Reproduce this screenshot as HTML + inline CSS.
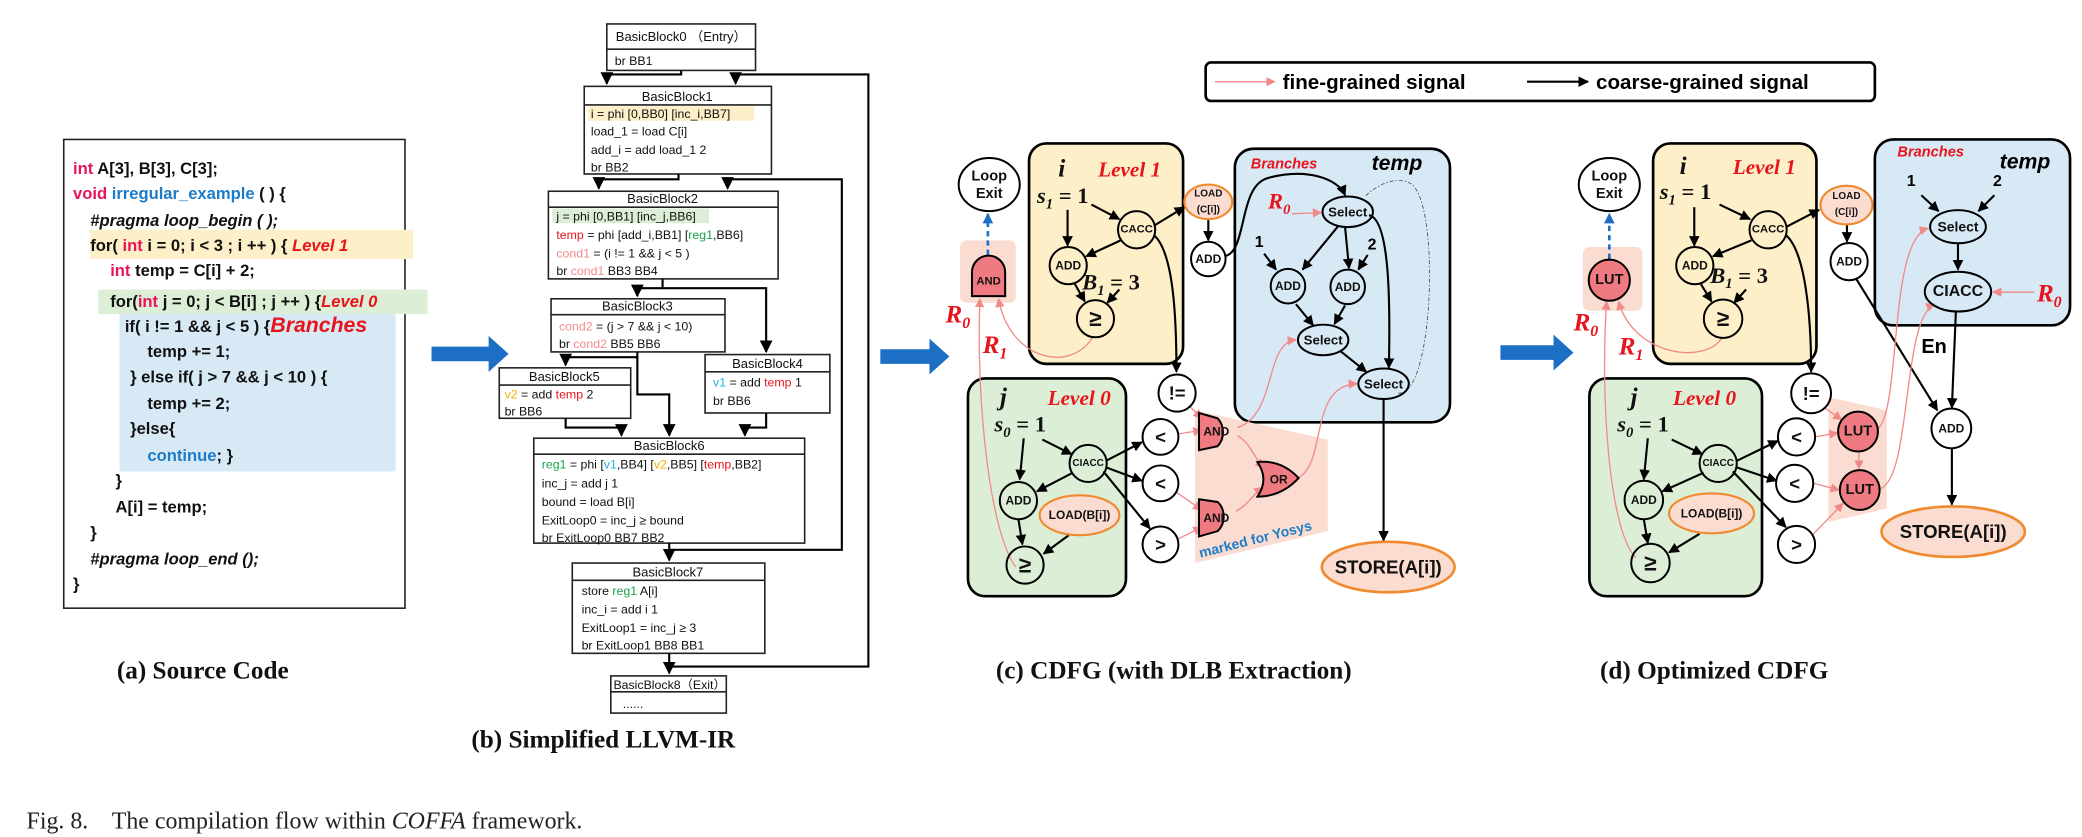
<!DOCTYPE html>
<html><head><meta charset="utf-8"><style>
html,body{margin:0;padding:0;background:#fff;}
svg{display:block;}
.s{font-family:"Liberation Sans",sans-serif;}
.b{font-weight:bold;}
.serif{font-family:"Liberation Serif",serif;}
.code{font-family:"Liberation Sans",sans-serif;font-size:12.5px;font-weight:bold;fill:#111;}
.ir{font-family:"Liberation Sans",sans-serif;font-size:9.3px;fill:#111;}
.irh{font-family:"Liberation Sans",sans-serif;font-size:9.8px;fill:#111;text-anchor:middle;}
.lbl{font-family:"Liberation Sans",sans-serif;font-weight:bold;text-anchor:middle;dominant-baseline:central;fill:#111;}
.red{fill:#e8141c;}
.math{font-family:"Liberation Serif",serif;font-weight:bold;font-style:italic;fill:#111;}
.rm{font-family:"Liberation Serif",serif;font-weight:bold;font-style:italic;fill:#e8141c;}
.blk{stroke:#000;stroke-width:1.6;fill:none;}
.pk{stroke:#f08a8a;stroke-width:1;fill:none;}
.node{stroke:#000;stroke-width:1.5;}
.cap{font-family:"Liberation Serif",serif;font-weight:bold;font-size:19px;fill:#111;}
</style></head><body>
<svg width="2082" height="837" viewBox="0 0 1568 630.3" xmlns="http://www.w3.org/2000/svg">
<defs>
<marker id="ab" viewBox="0 0 10 10" refX="9" refY="5" markerWidth="5" markerHeight="5" orient="auto"><path d="M0,0L10,5L0,10z" fill="#000"/></marker>
<marker id="ap" viewBox="0 0 10 10" refX="9" refY="5" markerWidth="7" markerHeight="7" orient="auto"><path d="M0,0L10,5L0,10z" fill="#f08a8a"/></marker>
<marker id="abl" viewBox="0 0 10 10" refX="9" refY="5" markerWidth="4" markerHeight="4" orient="auto"><path d="M0,0L10,5L0,10z" fill="#1c6fc4"/></marker>
<marker id="as" viewBox="0 0 10 10" refX="9" refY="5" markerWidth="6" markerHeight="6" orient="auto"><path d="M0,0L10,5L0,10z" fill="#000"/></marker>
</defs>
<rect width="1568" height="631" fill="#fff"/>

<!-- (a) Source code -->
<rect x="48" y="105" width="257" height="353" fill="#fff" stroke="#222" stroke-width="1.2"/>
<rect x="68" y="173" width="243" height="22" fill="#fdefc8"/>
<rect x="74" y="218" width="248" height="18.5" fill="#dcefd6"/>
<rect x="90" y="236.5" width="208" height="118.5" fill="#d8e9f6"/>
<text class="code" x="55" y="131"><tspan fill="#e8145a">int</tspan> A[3], B[3], C[3];</text>
<text class="code" x="55" y="150"><tspan fill="#e8145a">void</tspan> <tspan fill="#1c7cc8">irregular_example</tspan> ( ) {</text>
<text class="code" x="68" y="170" fill="#e83ce8" font-style="italic">#pragma loop_begin ( );</text>
<text class="code" x="68" y="189">for( <tspan fill="#e8145a">int</tspan> i = 0; i &lt; 3 ; i ++ ) { <tspan fill="#e8141c" font-style="italic">Level 1</tspan></text>
<text class="code" x="83" y="208"><tspan fill="#e8145a">int</tspan> temp = C[i] + 2;</text>
<text class="code" x="83" y="231">for(<tspan fill="#e8145a">int</tspan> j = 0; j &lt; B[i] ; j ++ ) {<tspan fill="#e8141c" font-style="italic">Level 0</tspan></text>
<text class="code" x="94" y="250">if( i != 1 &amp;&amp; j &lt; 5 ) {<tspan fill="#e8141c" font-style="italic" font-size="16">Branches</tspan></text>
<text class="code" x="111" y="269">temp += 1;</text>
<text class="code" x="98" y="288">} else if( j &gt; 7 &amp;&amp; j &lt; 10 ) {</text>
<text class="code" x="111" y="308">temp += 2;</text>
<text class="code" x="98" y="327">}else{</text>
<text class="code" x="111" y="347"><tspan fill="#1c7cc8">continue</tspan>; }</text>
<text class="code" x="87" y="366">}</text>
<text class="code" x="87" y="386">A[i] = temp;</text>
<text class="code" x="68" y="405">}</text>
<text class="code" x="68" y="425" fill="#e83ce8" font-style="italic">#pragma loop_end ();</text>
<text class="code" x="55" y="444">}</text>
<text class="cap" x="88" y="511">(a) Source Code</text>

<!-- blue arrows -->
<g fill="#1c6fc4">
<path d="M325,261H368V253L383,266.5L368,280V272H325Z"/>
<path d="M663,263H700V255L715,268.5L700,282V274H663Z"/>
<path d="M1130,260H1170V252L1185,265.5L1170,279V271H1130Z"/>
</g>

<!-- (b) LLVM IR -->
<g fill="#fff" stroke="#222" stroke-width="1.2">
<rect x="457" y="18" width="112" height="35"/><line x1="457" y1="37" x2="569" y2="37"/>
<rect x="440" y="65" width="141" height="66"/><line x1="440" y1="79" x2="581" y2="79"/>
<rect x="413" y="144" width="173" height="66"/><line x1="413" y1="156" x2="586" y2="156"/>
<rect x="415" y="225" width="131" height="40"/><line x1="415" y1="237" x2="546" y2="237"/>
<rect x="376" y="277" width="99" height="38"/><line x1="376" y1="290" x2="475" y2="290"/>
<rect x="531" y="267" width="94" height="44"/><line x1="531" y1="280" x2="625" y2="280"/>
<rect x="402" y="330" width="204" height="79"/><line x1="402" y1="342" x2="606" y2="342"/>
<rect x="431" y="424" width="145" height="68"/><line x1="431" y1="437" x2="576" y2="437"/>
<rect x="460" y="509" width="87" height="28"/><line x1="460" y1="521" x2="547" y2="521"/>
</g>
<rect x="443" y="80" width="125" height="11" fill="#fdefc8"/>
<rect x="416" y="157" width="118" height="11" fill="#dcefd6"/>
<g class="blk" stroke-width="1.3">
<path d="M513,53V56H457V63" marker-end="url(#as)"/>
<path d="M576,424" />
<path d="M504,502H654V56H554V63" marker-end="url(#as)"/>
<path d="M511,131V135H451V142" marker-end="url(#as)"/>
<path d="M504,414H634V135H548V142" marker-end="url(#as)"/>
<path d="M499,210V217H480V223" marker-end="url(#as)"/>
<path d="M499,217H577V265" marker-end="url(#as)"/>
<path d="M480,265V269H426V275" marker-end="url(#as)"/>
<path d="M480,269V297H504V328" marker-end="url(#as)"/>
<path d="M426,315V322H468V328" marker-end="url(#as)"/>
<path d="M577,311V322H561V328" marker-end="url(#as)"/>
<path d="M504,409V422" marker-end="url(#as)"/>
<path d="M504,492V507" marker-end="url(#as)"/>
</g>
<text class="irh" x="513" y="31">BasicBlock0 （Entry）</text>
<text class="ir" x="463" y="49">br BB1</text>
<text class="irh" x="510" y="76">BasicBlock1</text>
<text class="ir" x="445" y="89">i = phi [0,BB0] [inc_i,BB7]</text>
<text class="ir" x="445" y="102">load_1 = load C[i]</text>
<text class="ir" x="445" y="116">add_i = add load_1 2</text>
<text class="ir" x="445" y="129">br BB2</text>
<text class="irh" x="499" y="153">BasicBlock2</text>
<text class="ir" x="419" y="166">j = phi [0,BB1] [inc_j,BB6]</text>
<text class="ir" x="419" y="180"><tspan fill="#e8141c">temp</tspan> = phi [add_i,BB1] [<tspan fill="#1aa34a">reg1</tspan>,BB6]</text>
<text class="ir" x="419" y="194"><tspan fill="#f28a8a">cond1</tspan> = (i != 1 &amp;&amp; j &lt; 5 )</text>
<text class="ir" x="419" y="207">br <tspan fill="#f28a8a">cond1</tspan> BB3 BB4</text>
<text class="irh" x="480" y="234">BasicBlock3</text>
<text class="ir" x="421" y="249"><tspan fill="#f28a8a">cond2</tspan> = (j &gt; 7 &amp;&amp; j &lt; 10)</text>
<text class="ir" x="421" y="262">br <tspan fill="#f28a8a">cond2</tspan> BB5 BB6</text>
<text class="irh" x="425" y="287">BasicBlock5</text>
<text class="ir" x="380" y="300"><tspan fill="#f5b400">v2</tspan> = add <tspan fill="#e8141c">temp</tspan> 2</text>
<text class="ir" x="380" y="313">br BB6</text>
<text class="irh" x="578" y="277">BasicBlock4</text>
<text class="ir" x="537" y="291"><tspan fill="#1cb4e8">v1</tspan> = add <tspan fill="#e8141c">temp</tspan> 1</text>
<text class="ir" x="537" y="305">br BB6</text>
<text class="irh" x="504" y="339">BasicBlock6</text>
<text class="ir" x="408" y="353"><tspan fill="#1aa34a">reg1</tspan> = phi [<tspan fill="#1cb4e8">v1</tspan>,BB4] [<tspan fill="#f5b400">v2</tspan>,BB5] [<tspan fill="#e8141c">temp</tspan>,BB2]</text>
<text class="ir" x="408" y="367">inc_j = add j 1</text>
<text class="ir" x="408" y="381">bound = load B[i]</text>
<text class="ir" x="408" y="395">ExitLoop0 = inc_j ≥ bound</text>
<text class="ir" x="408" y="408">br ExitLoop0 BB7 BB2</text>
<text class="irh" x="503" y="434">BasicBlock7</text>
<text class="ir" x="438" y="448">store <tspan fill="#1aa34a">reg1</tspan> A[i]</text>
<text class="ir" x="438" y="462">inc_i = add i 1</text>
<text class="ir" x="438" y="476">ExitLoop1 = inc_j ≥ 3</text>
<text class="ir" x="438" y="489">br ExitLoop1 BB8 BB1</text>
<text class="ir" x="462" y="519" font-size="8.5">BasicBlock8（Exit）</text>
<text class="ir" x="469" y="533">......</text>
<text class="cap" x="355" y="563">(b) Simplified LLVM-IR</text>

<!-- Legend -->
<rect x="908" y="47" width="504" height="29" rx="4" fill="#fff" stroke="#000" stroke-width="2"/>
<line x1="915" y1="61.5" x2="960" y2="61.5" class="pk" stroke-width="1.3" marker-end="url(#ap)"/>
<text class="s b" x="966" y="67" font-size="15.5">fine-grained signal</text>
<line x1="1150" y1="61.5" x2="1196" y2="61.5" class="blk" marker-end="url(#ab)"/>
<text class="s b" x="1202" y="67" font-size="15.5">coarse-grained signal</text>

<!-- (c) CDFG -->
<rect x="775" y="108" width="116" height="166" rx="13" fill="#fdefc8" stroke="#000" stroke-width="2"/>
<rect x="930" y="112" width="162" height="206" rx="14" fill="#d8e9f6" stroke="#000" stroke-width="2"/>
<rect x="729" y="285" width="119" height="164" rx="13" fill="#dcefd6" stroke="#000" stroke-width="2"/>
<rect x="723" y="181" width="42" height="47" rx="5" fill="#fbdcd0"/>
<polygon points="900,309 1000,331 1000,400 900,424" fill="#fbdcd0"/>

<text class="math" x="797" y="133" font-size="19">i</text>
<text class="rm" x="827" y="133" font-size="16" font-family="Liberation Sans">Level 1</text>
<text class="math" x="781" y="153" font-size="17">s<tspan font-size="11" dy="4">1</tspan><tspan dy="-4" font-style="normal"> = 1</tspan></text>
<text class="math" x="815" y="218" font-size="17">B<tspan font-size="11" dy="4">1</tspan><tspan dy="-4" font-style="normal"> = 3</tspan></text>
<text class="s b" x="942" y="127" font-size="11" font-style="italic" fill="#e8141c">Branches</text>
<text class="s b" x="1033" y="128" font-size="16" font-style="italic">temp</text>
<text class="rm" x="955" y="157" font-size="17">R<tspan font-size="11" dy="4">0</tspan></text>
<text class="s b" x="945" y="186" font-size="12">1</text>
<text class="s b" x="1030" y="188" font-size="12">2</text>
<text class="math" x="753" y="305" font-size="19">j</text>
<text class="rm" x="789" y="305" font-size="16" font-family="Liberation Sans">Level 0</text>
<text class="math" x="749" y="325" font-size="17">s<tspan font-size="11" dy="4">0</tspan><tspan dy="-4" font-style="normal"> = 1</tspan></text>
<text class="rm" x="712" y="243" font-size="19">R<tspan font-size="12" dy="4">0</tspan></text>
<text class="rm" x="740" y="266" font-size="19">R<tspan font-size="12" dy="4">1</tspan></text>

<!-- edges c black -->
<g class="blk" stroke-width="1.4">
<path d="M804,158V185" marker-end="url(#ab)"/>
<path d="M822,154L843,165" marker-end="url(#ab)"/>
<path d="M844,181L818,193" marker-end="url(#ab)"/>
<path d="M809,213L817,227" marker-end="url(#ab)"/>
<path d="M843,218L834,228" marker-end="url(#ab)"/>
<path d="M869,170L892,156" marker-end="url(#ab)"/>
<path d="M869,177C884,190 886,240 886,280" marker-end="url(#ab)"/>
<path d="M910,165V181" marker-end="url(#ab)"/>
<path d="M922,193C940,190 932,140 955,134C985,126 1008,135 1013,147" marker-end="url(#ab)"/>
<path d="M952,191L961,203" marker-end="url(#ab)"/>
<path d="M1030,192L1023,203" marker-end="url(#ab)"/>
<path d="M1008,170L981,203" marker-end="url(#ab)"/>
<path d="M1013,171L1016,202" marker-end="url(#ab)"/>
<path d="M1031,162C1047,165 1047,230 1046,277" marker-end="url(#ab)"/>
<path d="M976,229L989,245" marker-end="url(#ab)"/>
<path d="M1013,230L1005,244" marker-end="url(#ab)"/>
<path d="M1009,264L1029,280" marker-end="url(#ab)"/>
<path d="M1042,300V407" marker-end="url(#ab)"/>
<path d="M771,330L768,361" marker-end="url(#ab)"/>
<path d="M785,331L807,342" marker-end="url(#ab)"/>
<path d="M808,356L781,370" marker-end="url(#ab)"/>
<path d="M767,391L770,410" marker-end="url(#ab)"/>
<path d="M805,403L786,417" marker-end="url(#ab)"/>
<path d="M833,347L860,333" marker-end="url(#ab)"/>
<path d="M833,352L860,362" marker-end="url(#ab)"/>
<path d="M831,355L866,398" marker-end="url(#ab)"/>
</g>
<path d="M1053,296C1080,300 1085,150 1062,138C1050,132 1036,140 1028,148" fill="none" stroke="#444" stroke-width="0.6" stroke-dasharray="3,1.5,1,1.5"/>
<!-- pink c -->
<g class="pk">
<path d="M823,254C805,282 760,270 752,225" marker-end="url(#ap)"/>
<path d="M765,427C745,400 735,300 738,225" marker-end="url(#ap)"/>
<path d="M896,306L905,315" marker-end="url(#ap)"/>
<path d="M886,327L905,324" marker-end="url(#ap)"/>
<path d="M885,370L905,384" marker-end="url(#ap)"/>
<path d="M885,407L905,397" marker-end="url(#ap)"/>
<path d="M932,328C943,335 944,345 952,352" marker-end="url(#ap)"/>
<path d="M931,385C940,380 944,372 951,367" marker-end="url(#ap)"/>
<path d="M932,322C962,312 952,258 976,256" marker-end="url(#ap)"/>
<path d="M977,360C1000,350 985,290 1022,289" marker-end="url(#ap)"/>
<path d="M973,161L995,160" marker-end="url(#ap)"/>
</g>
<path d="M744,192V161" stroke="#1c6fc4" stroke-width="2" stroke-dasharray="4,3" fill="none" marker-end="url(#abl)"/>

<!-- nodes c -->
<ellipse cx="745" cy="139" rx="23" ry="20" fill="#fff" class="node" stroke-width="2"/>
<text class="lbl" x="745" y="133" font-size="11">Loop</text><text class="lbl" x="745" y="146" font-size="11">Exit</text>
<path d="M732,223V205A12.5,12.5 0 0 1 757,205V223Z" fill="#f07a82" class="node"/>
<text class="lbl" x="744.5" y="212" font-size="8.5">AND</text>
<circle cx="856" cy="173" r="14" fill="none" class="node"/><text class="lbl" x="856" y="173" font-size="8.5">CACC</text>
<circle cx="804.5" cy="200" r="14" fill="none" class="node"/><text class="lbl" x="804.5" y="200" font-size="9">ADD</text>
<circle cx="825" cy="240" r="14" fill="none" class="node"/><text class="lbl" x="825" y="240" font-size="17" font-weight="normal">≥</text>
<ellipse cx="910" cy="152" rx="18" ry="13" fill="#fbdcd0" stroke="#f08a30" stroke-width="1.6"/>
<text class="lbl" x="910" y="146" font-size="7.5">LOAD</text><text class="lbl" x="910" y="158" font-size="7.5">(C[i])</text>
<circle cx="910" cy="195" r="13" fill="#fff" class="node"/><text class="lbl" x="910" y="195" font-size="9">ADD</text>
<ellipse cx="1015" cy="159.5" rx="19" ry="11.5" fill="none" class="node"/><text class="lbl" x="1015" y="159.5" font-size="10">Select</text>
<circle cx="970" cy="215.5" r="13" fill="none" class="node"/><text class="lbl" x="970" y="215.5" font-size="9">ADD</text>
<circle cx="1015" cy="216" r="13" fill="none" class="node"/><text class="lbl" x="1015" y="216" font-size="9">ADD</text>
<ellipse cx="996.5" cy="256" rx="19" ry="11.5" fill="none" class="node"/><text class="lbl" x="996.5" y="256" font-size="10">Select</text>
<ellipse cx="1042" cy="289" rx="19" ry="11.5" fill="none" class="node"/><text class="lbl" x="1042" y="289" font-size="10">Select</text>
<circle cx="886.5" cy="296" r="14" fill="#fff" class="node"/><text class="lbl" x="886.5" y="296" font-size="14">!=</text>
<circle cx="819.5" cy="349" r="14" fill="none" class="node"/><text class="lbl" x="819.5" y="349" font-size="7.5">CIACC</text>
<circle cx="767" cy="377" r="14" fill="none" class="node"/><text class="lbl" x="767" y="377" font-size="9">ADD</text>
<ellipse cx="813" cy="388" rx="30" ry="15" fill="#fbdcd0" stroke="#f08a30" stroke-width="1.6"/><text class="lbl" x="813" y="388" font-size="9">LOAD(B[i])</text>
<circle cx="772" cy="425.5" r="14" fill="none" class="node"/><text class="lbl" x="772" y="425.5" font-size="17" font-weight="normal">≥</text>
<circle cx="874" cy="329" r="13.5" fill="#fff" class="node"/><text class="lbl" x="874" y="329" font-size="14">&lt;</text>
<circle cx="874" cy="364" r="13.5" fill="#fff" class="node"/><text class="lbl" x="874" y="364" font-size="14">&lt;</text>
<circle cx="874" cy="410" r="13.5" fill="#fff" class="node"/><text class="lbl" x="874" y="410" font-size="14">&gt;</text>
<path d="M903,311L917,315A12,14 0 0 1 917,336L903,339Z" fill="#f07a82" class="node"/><text class="lbl" x="916" y="325" font-size="9">AND</text>
<path d="M903,376L917,378A12,14 0 0 1 917,400L903,404Z" fill="#f07a82" class="node"/><text class="lbl" x="916" y="390" font-size="9">AND</text>
<path d="M947,348Q965,346 978,360Q965,374 947,374Q956,361 947,348Z" fill="#f07a82" class="node"/><text class="lbl" x="963" y="361" font-size="9">OR</text>
<text class="s b" font-size="10.5" fill="#1c7cc8" transform="translate(904,420) rotate(-14)">marked for Yosys</text>
<ellipse cx="1045.5" cy="427" rx="50" ry="19" fill="#fbdcd0" stroke="#f08a30" stroke-width="2"/><text class="lbl" x="1045.5" y="427" font-size="14">STORE(A[i])</text>
<text class="cap" x="750" y="511">(c) CDFG (with DLB Extraction)</text>

<!-- (d) Optimized CDFG -->
<rect x="1245" y="108" width="123" height="166" rx="13" fill="#fdefc8" stroke="#000" stroke-width="2"/>
<rect x="1412" y="105" width="147" height="140" rx="14" fill="#d8e9f6" stroke="#000" stroke-width="2"/>
<rect x="1197" y="285" width="130" height="164" rx="13" fill="#dcefd6" stroke="#000" stroke-width="2"/>
<rect x="1192" y="186" width="45" height="48" rx="5" fill="#fbdcd0"/>
<polygon points="1377,299 1421,309 1421,383 1377,393" fill="#fbdcd0"/>

<text class="math" x="1265" y="131" font-size="19">i</text>
<text class="rm" x="1305" y="131" font-size="16" font-family="Liberation Sans">Level 1</text>
<text class="math" x="1250" y="150" font-size="17">s<tspan font-size="11" dy="4">1</tspan><tspan dy="-4" font-style="normal"> = 1</tspan></text>
<text class="math" x="1288" y="213" font-size="17">B<tspan font-size="11" dy="4">1</tspan><tspan dy="-4" font-style="normal"> = 3</tspan></text>
<text class="s b" x="1429" y="118" font-size="11" font-style="italic" fill="#e8141c">Branches</text>
<text class="s b" x="1506" y="127" font-size="16" font-style="italic">temp</text>
<text class="s b" x="1436" y="140" font-size="12">1</text>
<text class="s b" x="1501" y="140" font-size="12">2</text>
<text class="rm" x="1534" y="227" font-size="19">R<tspan font-size="12" dy="4">0</tspan></text>
<text class="s b" x="1447" y="266" font-size="15">En</text>
<text class="math" x="1228" y="305" font-size="19">j</text>
<text class="rm" x="1260" y="305" font-size="16" font-family="Liberation Sans">Level 0</text>
<text class="math" x="1218" y="325" font-size="17">s<tspan font-size="11" dy="4">0</tspan><tspan dy="-4" font-style="normal"> = 1</tspan></text>
<text class="rm" x="1185" y="249" font-size="19">R<tspan font-size="12" dy="4">0</tspan></text>
<text class="rm" x="1219" y="267" font-size="19">R<tspan font-size="12" dy="4">1</tspan></text>

<g class="blk" stroke-width="1.4">
<path d="M1276,156V185" marker-end="url(#ab)"/>
<path d="M1295,154L1318,165" marker-end="url(#ab)"/>
<path d="M1319,181L1290,193" marker-end="url(#ab)"/>
<path d="M1281,214L1289,227" marker-end="url(#ab)"/>
<path d="M1315,218L1306,228" marker-end="url(#ab)"/>
<path d="M1345,171L1370,158" marker-end="url(#ab)"/>
<path d="M1345,177C1360,190 1364,240 1364,280" marker-end="url(#ab)"/>
<path d="M1391,169V182" marker-end="url(#ab)"/>
<path d="M1398,210L1459,309" marker-end="url(#ab)"/>
<path d="M1447,147L1460,159" marker-end="url(#ab)"/>
<path d="M1502,147L1490,159" marker-end="url(#ab)"/>
<path d="M1474.6,183V203" marker-end="url(#ab)"/>
<path d="M1473,235L1470,307" marker-end="url(#ab)"/>
<path d="M1470,338V380" marker-end="url(#ab)"/>
<path d="M1241,330L1238,361" marker-end="url(#ab)"/>
<path d="M1259,331L1282,342" marker-end="url(#ab)"/>
<path d="M1283,356L1252,370" marker-end="url(#ab)"/>
<path d="M1238,391L1241,409" marker-end="url(#ab)"/>
<path d="M1280,402L1257,416" marker-end="url(#ab)"/>
<path d="M1308,347L1339,332" marker-end="url(#ab)"/>
<path d="M1308,352L1338,362" marker-end="url(#ab)"/>
<path d="M1305,355L1345,397" marker-end="url(#ab)"/>
</g>
<g class="pk">
<path d="M1297,254C1285,275 1230,268 1219,227" marker-end="url(#ap)"/>
<path d="M1232,420C1212,400 1205,300 1210,227" marker-end="url(#ap)"/>
<path d="M1374,307L1387,316" marker-end="url(#ap)"/>
<path d="M1367,329L1384,326" marker-end="url(#ap)"/>
<path d="M1366,364L1385,369" marker-end="url(#ap)"/>
<path d="M1364,404L1388,379" marker-end="url(#ap)"/>
<path d="M1400,340V353" marker-end="url(#ap)"/>
<path d="M1414,323C1432,310 1422,180 1452,172" marker-end="url(#ap)"/>
<path d="M1416,368C1440,360 1432,240 1457,229" marker-end="url(#ap)"/>
<path d="M1532,220L1501,220" marker-end="url(#ap)"/>
</g>
<path d="M1212,195V161" stroke="#1c6fc4" stroke-width="2" stroke-dasharray="4,3" fill="none" marker-end="url(#abl)"/>

<ellipse cx="1212" cy="139" rx="23" ry="20" fill="#fff" class="node" stroke-width="2"/>
<text class="lbl" x="1212" y="133" font-size="11">Loop</text><text class="lbl" x="1212" y="146" font-size="11">Exit</text>
<circle cx="1212" cy="211" r="15.5" fill="#f07a82" class="node" stroke-width="2"/><text class="lbl" x="1212" y="211" font-size="11">LUT</text>
<circle cx="1331.6" cy="173" r="14" fill="none" class="node"/><text class="lbl" x="1331.6" y="173" font-size="8.5">CACC</text>
<circle cx="1276.4" cy="200" r="14" fill="none" class="node"/><text class="lbl" x="1276.4" y="200" font-size="9">ADD</text>
<circle cx="1297.7" cy="240" r="14.5" fill="none" class="node"/><text class="lbl" x="1297.7" y="240" font-size="17" font-weight="normal">≥</text>
<ellipse cx="1390.6" cy="154.4" rx="19.6" ry="14.6" fill="#fbdcd0" stroke="#f08a30" stroke-width="1.6"/>
<text class="lbl" x="1390.6" y="148" font-size="7.5">LOAD</text><text class="lbl" x="1390.6" y="160" font-size="7.5">(C[i])</text>
<circle cx="1392.6" cy="197" r="14" fill="#fff" class="node"/><text class="lbl" x="1392.6" y="197" font-size="9">ADD</text>
<ellipse cx="1474.6" cy="170.7" rx="21" ry="12.5" fill="none" class="node"/><text class="lbl" x="1474.6" y="170.7" font-size="10.5">Select</text>
<ellipse cx="1474.6" cy="219.6" rx="25" ry="15" fill="none" class="node"/><text class="lbl" x="1474.6" y="219.6" font-size="12">CIACC</text>
<circle cx="1469.6" cy="322.6" r="15" fill="#fff" class="node"/><text class="lbl" x="1469.6" y="322.6" font-size="9">ADD</text>
<ellipse cx="1471" cy="400.4" rx="54" ry="19" fill="#fbdcd0" stroke="#f08a30" stroke-width="2"/><text class="lbl" x="1471" y="400.4" font-size="14">STORE(A[i])</text>
<circle cx="1294" cy="349" r="14" fill="none" class="node"/><text class="lbl" x="1294" y="349" font-size="7.5">CIACC</text>
<circle cx="1238" cy="376.5" r="14.5" fill="none" class="node"/><text class="lbl" x="1238" y="376.5" font-size="9">ADD</text>
<ellipse cx="1289" cy="386.6" rx="32" ry="15" fill="#fbdcd0" stroke="#f08a30" stroke-width="1.6"/><text class="lbl" x="1289" y="386.6" font-size="9">LOAD(B[i])</text>
<circle cx="1243" cy="424" r="14.5" fill="none" class="node"/><text class="lbl" x="1243" y="424" font-size="17" font-weight="normal">≥</text>
<circle cx="1364" cy="296.2" r="15" fill="#fff" class="node"/><text class="lbl" x="1364" y="296.2" font-size="14">!=</text>
<circle cx="1353" cy="329" r="14" fill="#fff" class="node"/><text class="lbl" x="1353" y="329" font-size="14">&lt;</text>
<circle cx="1351.6" cy="364" r="14" fill="#fff" class="node"/><text class="lbl" x="1351.6" y="364" font-size="14">&lt;</text>
<circle cx="1353" cy="410" r="14" fill="#fff" class="node"/><text class="lbl" x="1353" y="410" font-size="14">&gt;</text>
<circle cx="1399.3" cy="325" r="15" fill="#f07a82" class="node"/><text class="lbl" x="1399.3" y="325" font-size="11">LUT</text>
<circle cx="1400.6" cy="369" r="15" fill="#f07a82" class="node"/><text class="lbl" x="1400.6" y="369" font-size="11">LUT</text>
<text class="cap" x="1205" y="511">(d) Optimized CDFG</text>

<text class="serif" x="20" y="624" font-size="18" fill="#222">Fig. 8.&#160;&#160;&#160; The compilation flow within <tspan font-style="italic">COFFA</tspan> framework.</text>
</svg>
</body></html>
